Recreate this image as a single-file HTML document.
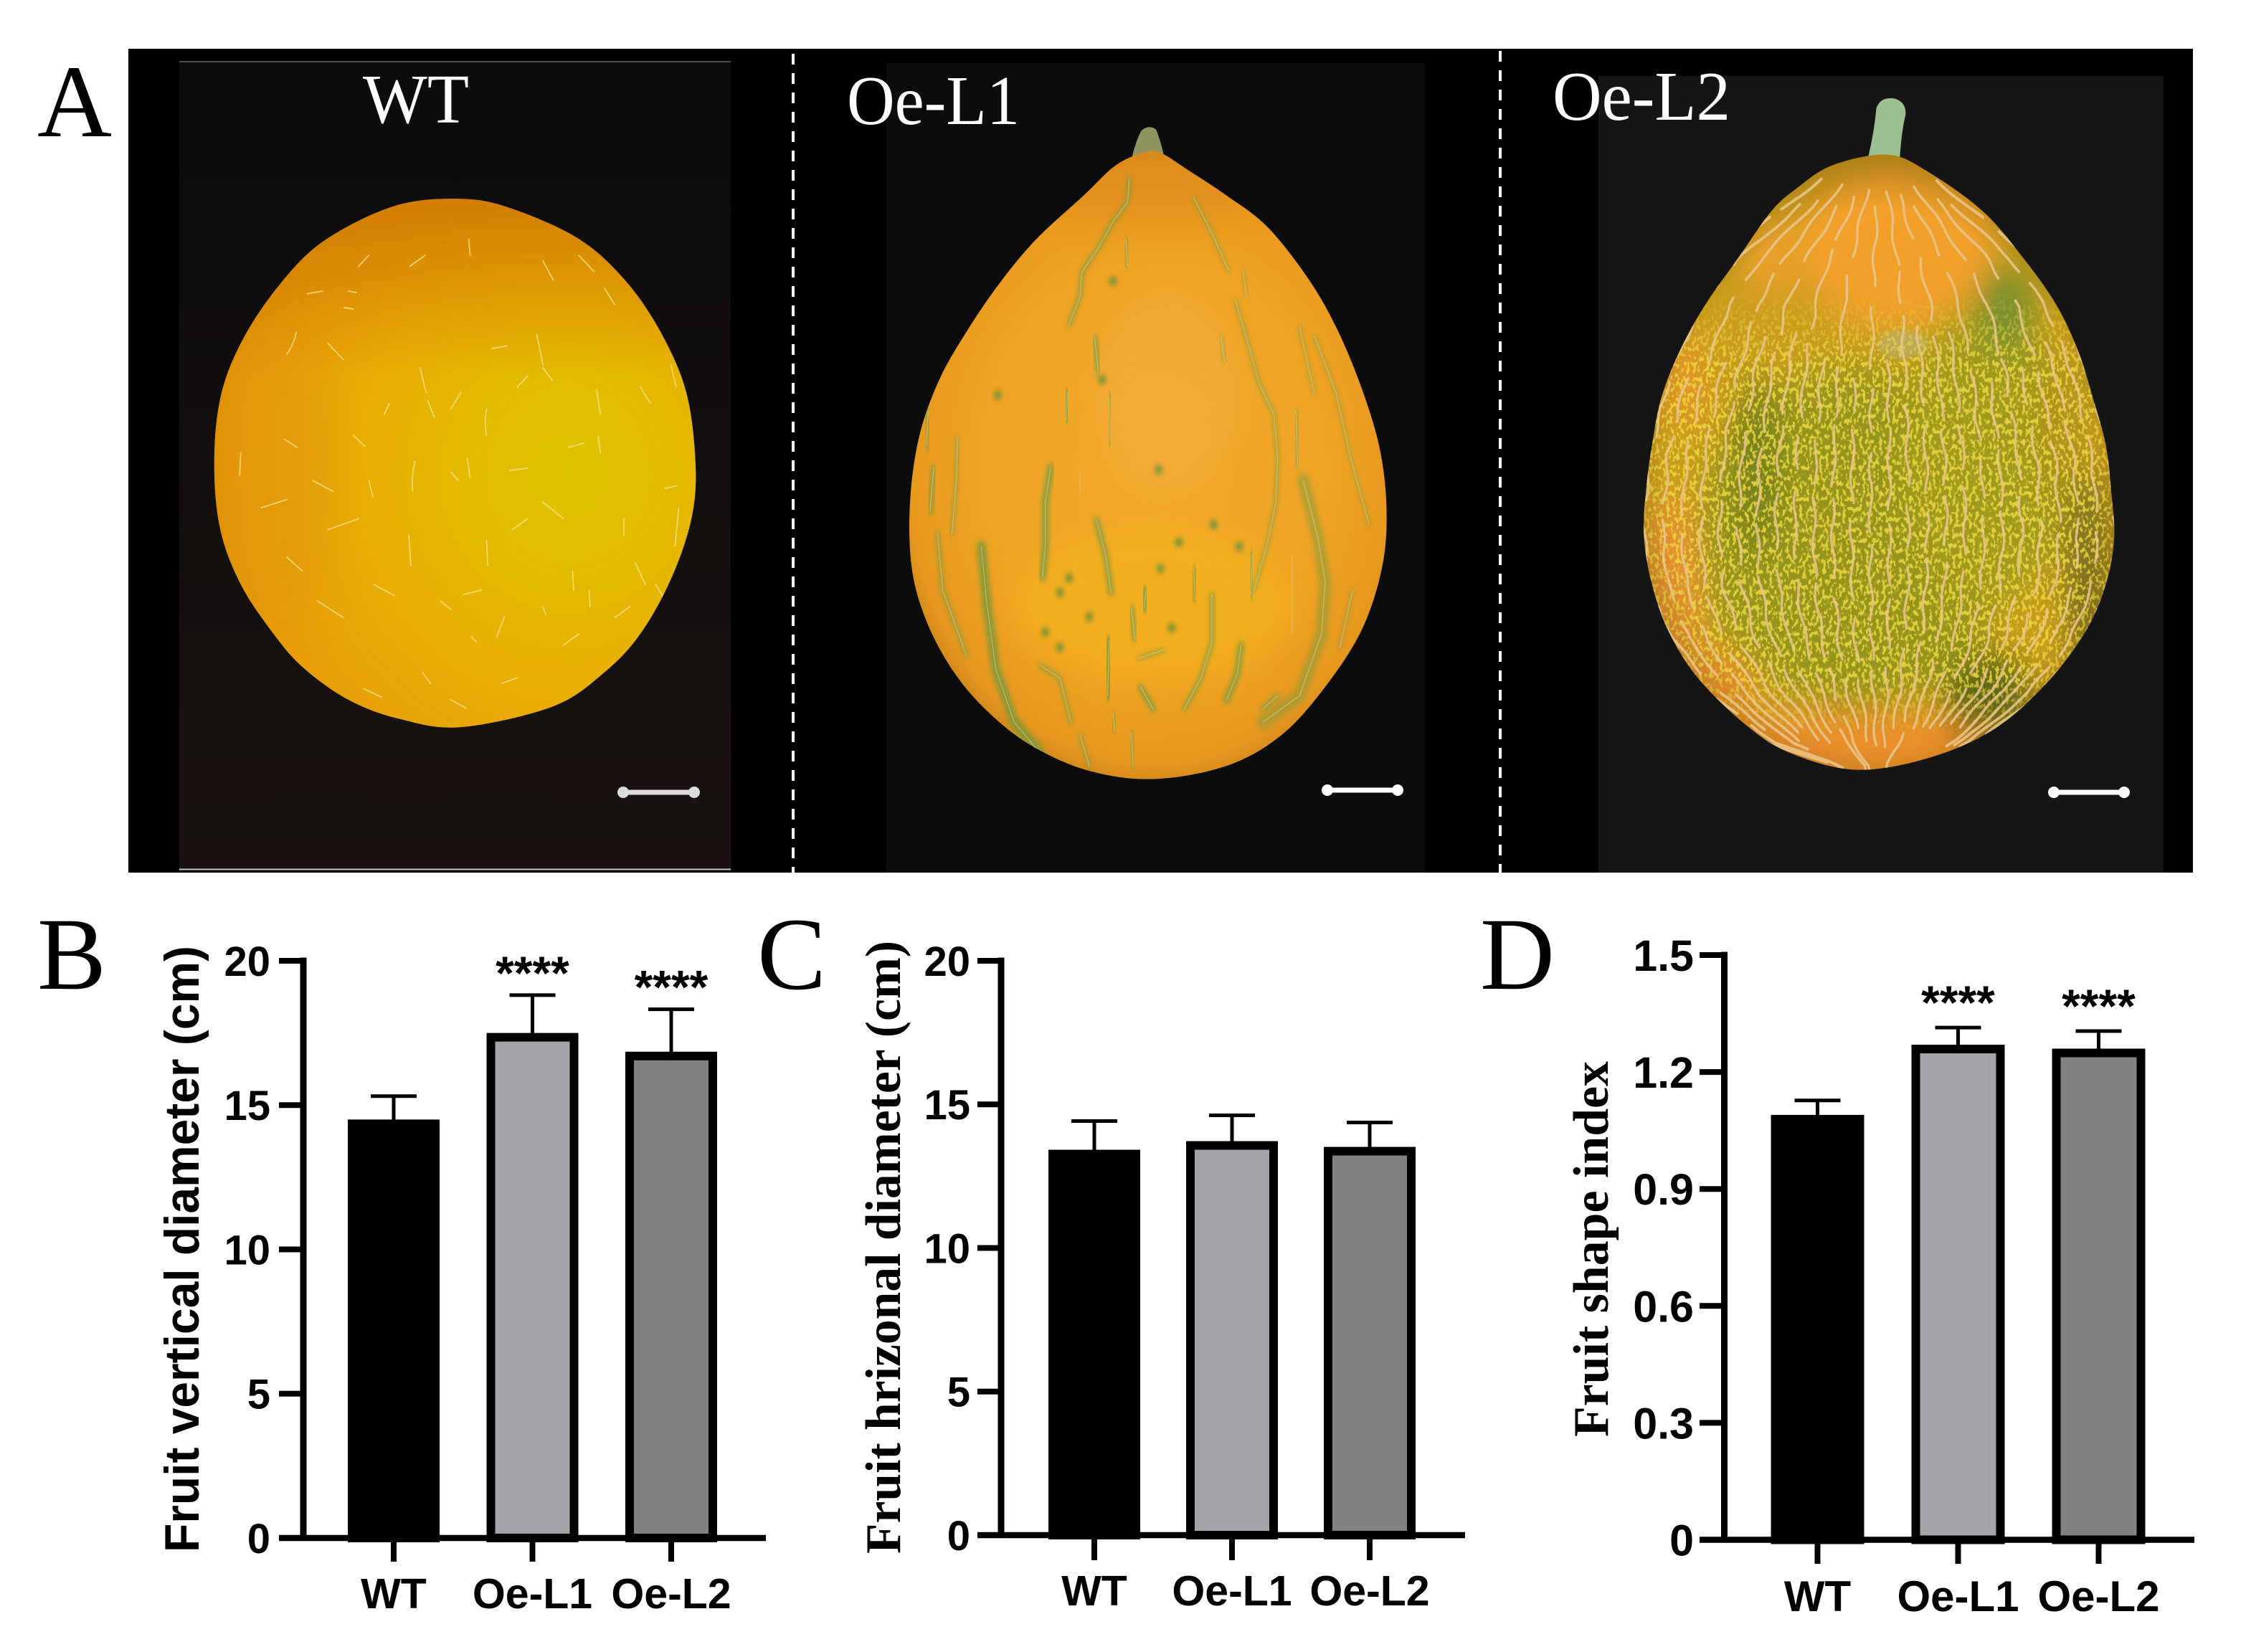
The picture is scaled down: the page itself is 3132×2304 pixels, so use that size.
<!DOCTYPE html>
<html lang="en">
<head>
<meta charset="utf-8">
<title>Melon fruit phenotype figure</title>
<style>
html,body{margin:0;padding:0;background:#fff;}
svg{display:block;}
.serif{font-family:"Liberation Serif",serif;}
.sans{font-family:"Liberation Sans",sans-serif;}
</style>
</head>
<body>
<svg id="figure" xmlns="http://www.w3.org/2000/svg" width="3132" height="2304" viewBox="0 0 3132 2304">
  <defs>
    <filter id="blur6" x="-40%" y="-40%" width="180%" height="180%"><feGaussianBlur stdDeviation="6"/></filter>
    <filter id="blur40" x="-60%" y="-60%" width="220%" height="220%"><feGaussianBlur stdDeviation="40"/></filter>
    <filter id="speckle" x="0" y="0" width="100%" height="100%">
      <feTurbulence type="fractalNoise" baseFrequency="0.11 0.09" numOctaves="2" seed="7"/>
      <feColorMatrix type="matrix" values="0 0 0 0 0.88  0 0 0 0 0.72  0 0 0 0 0.06  0 0 0 9 -4.6"/>
    </filter>
    <linearGradient id="speckleFadeGrad" gradientUnits="userSpaceOnUse" x1="0" y1="470" x2="0" y2="1430">
      <stop offset="0" stop-color="#000"/>
      <stop offset="0.16" stop-color="#fff"/>
      <stop offset="0.86" stop-color="#fff"/>
      <stop offset="1" stop-color="#000"/>
    </linearGradient>
    <mask id="speckleFade" maskUnits="userSpaceOnUse" x="90" y="170" width="1310" height="1340">
      <rect x="90" y="170" width="1310" height="1340" fill="url(#speckleFadeGrad)"/>
    </mask>
    <radialGradient id="wtBase" gradientUnits="userSpaceOnUse" cx="1110" cy="800" r="800">
      <stop offset="0" stop-color="#dcc400"/>
      <stop offset="0.2" stop-color="#e3bd00"/>
      <stop offset="0.5" stop-color="#e9ae04"/>
      <stop offset="0.8" stop-color="#e69c0a"/>
      <stop offset="1" stop-color="#d68208"/>
    </radialGradient>
    <linearGradient id="wtTop" gradientUnits="userSpaceOnUse" x1="0" y1="300" x2="0" y2="620">
      <stop offset="0" stop-color="#c86e00" stop-opacity="0.7"/>
      <stop offset="1" stop-color="#c86e00" stop-opacity="0"/>
    </linearGradient>
    <radialGradient id="l1Base" gradientUnits="userSpaceOnUse" cx="800" cy="820" r="790">
      <stop offset="0" stop-color="#f2aa2c"/>
      <stop offset="0.6" stop-color="#efa424"/>
      <stop offset="0.85" stop-color="#e6981e"/>
      <stop offset="1" stop-color="#b8761a"/>
    </radialGradient>
    <radialGradient id="l2Edge" gradientUnits="userSpaceOnUse" cx="745" cy="870" r="740">
      <stop offset="0.78" stop-color="#5a3a08" stop-opacity="0"/>
      <stop offset="1" stop-color="#5a3a08" stop-opacity="0.4"/>
    </radialGradient>
    <linearGradient id="wtBack" x1="0" y1="0" x2="0" y2="1">
      <stop offset="0" stop-color="#0d0c0c"/>
      <stop offset="1" stop-color="#191210"/>
    </linearGradient>
    <clipPath id="wtClip"><path id="wtClipPath" d=""/></clipPath>
    <clipPath id="l1Clip"><path id="l1ClipPath" d=""/></clipPath>
    <clipPath id="l2Clip"><path id="l2ClipPath" d=""/></clipPath>
  </defs>

  <rect width="3132" height="2304" fill="#ffffff"/>

  <g>
    <rect x="179" y="68" width="2879" height="1149" fill="#000"/>
    <rect x="250" y="86" width="769" height="1127" fill="url(#wtBack)"/>
    <line x1="250" y1="86" x2="1019" y2="86" stroke="#666" stroke-width="1.5"/>
    <line x1="250" y1="1212.5" x2="1019" y2="1212.5" stroke="#ccc" stroke-width="2"/>
    <rect x="1236" y="88" width="751" height="1129" fill="#0c0c0c"/>
    <rect x="2229" y="106" width="788" height="1111" fill="#151515"/>

    <g transform="translate(0,50) scale(0.7143,0.7653)">
      <g clip-path="url(#wtClip)">
        <path id="wtBody" d="" fill="url(#wtBase)"/>
        <rect x="400" y="280" width="980" height="400" fill="url(#wtTop)"/>
        <ellipse cx="540" cy="800" rx="110" ry="280" fill="#dc9008" opacity="0.35" filter="url(#blur40)"/>
        <path fill="none" stroke="#f8e488" stroke-width="2.4" stroke-linecap="round" opacity="0.8"
          d="M1048 545Q1055 575 1060 600M1060 605L1078 628M950 680Q945 705 950 728M810 775Q802 810 806 830M720 810L728 840M912 770L918 805M798 910L802 965M950 920L952 965M1110 750L1140 742M995 792L1030 788M1165 645L1172 690M1168 730L1172 760M1320 820L1298 825M1325 860L1318 930M1218 880L1218 910M905 1018L940 1010M1118 975L1120 1010M1150 1010L1152 1040M970 1095Q980 1070 985 1058M820 605L832 650M835 665L848 695M690 728L712 748M555 735L580 750M560 580Q575 560 578 540M600 470L630 465M680 465L695 468M672 495L690 498M1060 410L1080 445M915 370L918 400M960 570L990 565M1180 460L1200 490M710 1190L745 1205M825 1160L840 1180M920 1095L930 1105M1310 600L1320 640M750 690L760 670M880 795L895 810M1060 1040L1065 1055M470 760L468 800M510 860L560 845M610 810L650 830M640 900L700 880M560 950L590 975M620 1030L670 1060M730 1000L770 1020M860 1030L880 1045M1000 900L1030 880M1060 850L1100 880M1240 960L1260 1000M1200 1060L1230 1040M1100 1110L1130 1090M980 1180L1010 1170M880 1210L910 1225M1280 1000L1300 1030M1130 400L1160 430M800 420L830 400M700 420L720 400M640 560L670 590M1250 640L1270 670M1010 640L1030 620M880 680L900 650"/>
      </g>
    </g>

    <g transform="translate(1200,150) scale(0.5102,0.6122)">
      <path d="M742 112Q755 70 768 52Q788 38 808 50Q820 75 830 112Z" fill="#8f9460"/>
      <g clip-path="url(#l1Clip)">
        <path id="l1Body" d="" fill="url(#l1Base)"/>
        <ellipse cx="840" cy="640" rx="190" ry="220" fill="#f5b050" opacity="0.4" filter="url(#blur40)"/>
        <ellipse cx="800" cy="1130" rx="380" ry="170" fill="#f4b21c" opacity="0.7" filter="url(#blur40)"/>
        <ellipse cx="780" cy="170" rx="330" ry="90" fill="#dd8a1e" opacity="0.6" filter="url(#blur40)"/>
        <g id="l1StreakLayer"></g>
      </g>
    </g>

    <g transform="translate(2240,100) scale(0.5102,0.6503)">
      <path d="M716 182Q732 130 738 78Q750 52 790 58Q820 66 818 92Q806 130 802 188Z" fill="#9cc090"/>
      <g clip-path="url(#l2Clip)">
        <path id="l2Body" d="" fill="#c89c1c"/>
        <g filter="url(#blur40)">
          <ellipse cx="790" cy="380" rx="270" ry="170" fill="#f2a02c"/>
          <ellipse cx="680" cy="1000" rx="430" ry="370" fill="#96941a"/>
          <ellipse cx="1040" cy="820" rx="230" ry="320" fill="#a09a1a"/>
          <ellipse cx="1090" cy="510" rx="80" ry="90" fill="#76902e"/>
          <ellipse cx="450" cy="400" rx="70" ry="90" fill="#eaa02a"/>
          <ellipse cx="210" cy="660" rx="60" ry="100" fill="#e49428"/>
          <ellipse cx="660" cy="1450" rx="400" ry="80" fill="#ec8e2a"/>
          <ellipse cx="180" cy="1100" rx="80" ry="190" fill="#e89232"/>
          <ellipse cx="290" cy="1320" rx="120" ry="70" fill="#e88e2a"/>
          <ellipse cx="1040" cy="1340" rx="120" ry="90" fill="#5c6618"/>
          <ellipse cx="1310" cy="1050" rx="60" ry="210" fill="#7a7220"/>
          <ellipse cx="410" cy="850" rx="60" ry="200" fill="#74801c"/>
          <ellipse cx="1250" cy="750" rx="70" ry="160" fill="#b0921e"/>
        </g>
        <ellipse cx="810" cy="585" rx="70" ry="30" fill="#b0b88e" opacity="0.5" filter="url(#blur6)"/>
        <g mask="url(#speckleFade)" opacity="0.8">
          <rect x="100" y="460" width="1300" height="980" filter="url(#speckle)"/>
        </g>
        <rect x="90" y="170" width="1310" height="1340" fill="url(#l2Edge)"/>
        <path id="l2Ribs" d="" fill="none" stroke="#eac78c" stroke-width="6.5" stroke-linecap="round" stroke-linejoin="round" opacity="0.85"/>
      </g>
    </g>

    <line x1="1106" y1="75" x2="1106" y2="1217" stroke="#fff" stroke-width="4" stroke-dasharray="15 12"/>
    <line x1="2092" y1="71" x2="2092" y2="1217" stroke="#fff" stroke-width="4" stroke-dasharray="15 12"/>

    <text class="serif" x="506" y="171" font-size="98" fill="#fff" textLength="148" lengthAdjust="spacingAndGlyphs">WT</text>
    <text class="serif" x="1181" y="173" font-size="98" fill="#fff" textLength="241" lengthAdjust="spacingAndGlyphs">Oe-L1</text>
    <text class="serif" x="2165" y="167" font-size="98" fill="#fff" textLength="248" lengthAdjust="spacingAndGlyphs">Oe-L2</text>

    <g stroke="#dcdcdc" fill="#dcdcdc">
      <line x1="869" y1="1105" x2="968" y2="1105" stroke-width="7"/>
      <circle cx="869" cy="1105" r="8" stroke="none"/><circle cx="968" cy="1105" r="8" stroke="none"/>
    </g>
    <g stroke="#fff" fill="#fff">
      <line x1="1851" y1="1102" x2="1949" y2="1102" stroke-width="7"/>
      <circle cx="1851" cy="1102" r="8" stroke="none"/><circle cx="1949" cy="1102" r="8" stroke="none"/>
    </g>
    <g stroke="#fff" fill="#fff">
      <line x1="2864" y1="1105" x2="2962" y2="1105" stroke-width="7"/>
      <circle cx="2864" cy="1105" r="8" stroke="none"/><circle cx="2962" cy="1105" r="8" stroke="none"/>
    </g>
  </g>

  <text class="serif" x="52" y="190" font-size="144" fill="#000">A</text>
  <text class="serif" x="52" y="1379" font-size="144" fill="#000">B</text>
  <text class="serif" x="1056" y="1379" font-size="144" fill="#000">C</text>
  <text class="serif" x="2064" y="1379" font-size="144" fill="#000">D</text>

  <g id="chartB"></g>
  <g id="chartC"></g>
  <g id="chartD"></g>
</svg>

<script>
/* ---------- chart data ---------- */
const categories = ['WT', 'Oe-L1', 'Oe-L2'];
const barFills = ['#000000', '#a4a3a7', '#818181'];

const verticalMeans = [14.5, 17.5, 16.85];
const verticalErrors = [0.81, 1.31, 1.47];
const verticalStars = ['', '****', '****'];
const verticalTicks = [0, 5, 10, 15, 20];
const verticalTickLabels = ['0', '5', '10', '15', '20'];

const horizontalMeans = [13.42, 13.72, 13.52];
const horizontalErrors = [1.0, 0.9, 0.85];
const horizontalStars = ['', '', ''];
const horizontalTicks = [0, 5, 10, 15, 20];
const horizontalTickLabels = ['0', '5', '10', '15', '20'];

const shapeMeans = [1.09, 1.27, 1.26];
const shapeErrors = [0.037, 0.044, 0.045];
const shapeStars = ['', '****', '****'];
const shapeTicks = [0, 0.3, 0.6, 0.9, 1.2, 1.5];
const shapeTickLabels = ['0', '0.3', '0.6', '0.9', '1.2', '1.5'];

const NS = 'http://www.w3.org/2000/svg';

function make(tag, attrs, parent) {
  const node = document.createElementNS(NS, tag);
  for (const key in attrs) node.setAttribute(key, attrs[key]);
  parent.appendChild(node);
  return node;
}

function drawChart(cfg) {
  const root = document.getElementById(cfg.id);
  const yScale = v => cfg.zeroY - (v / cfg.yMax) * (cfg.zeroY - cfg.topY);
  const xScale = i => cfg.firstX + i * cfg.stepX;
  const prefix = cfg.prefix;

  cfg.means.forEach((mean, i) => {
    const cx = xScale(i);
    const top = yScale(mean);
    const errTop = yScale(mean + cfg.errors[i]);
    const errLine = make('line', {x1: cx, x2: cx, y1: top + 4, y2: errTop, stroke: '#000', 'stroke-width': 5}, root);
    
    
    const errCap = make('line', {x1: cx - 32, x2: cx + 32, y1: errTop, y2: errTop, stroke: '#000', 'stroke-width': 5}, root);
    
    
    const sw = 12;
    const bar = make('rect', {
      x: cx - cfg.barWidth / 2 + sw / 2,
      y: top + sw / 2,
      width: cfg.barWidth - sw,
      height: cfg.zeroY - top - sw / 2,
      fill: barFills[i], stroke: '#000', 'stroke-width': sw
    }, root);
    
    
    if (cfg.stars[i]) {
      const star = make('text', {
        x: cx, y: errTop + cfg.starOffset, 'text-anchor': 'middle',
        'font-size': 66, 'font-weight': 'bold', 'font-family': '"Liberation Sans", sans-serif', fill: '#000'
      }, root);
      star.textContent = cfg.stars[i];
      
      
    }
    const tick = make('line', {x1: cx, x2: cx, y1: cfg.zeroY, y2: cfg.tickBottom, stroke: '#000', 'stroke-width': 8}, root);
    
    
    const label = make('text', {
      x: cx, y: cfg.xLabelY, 'text-anchor': 'middle',
      'font-size': cfg.xFont, 'font-weight': 'bold', 'font-family': '"Liberation Sans", sans-serif', fill: '#000'
    }, root);
    label.textContent = categories[i];
    
    
  });

  const yAxis = make('line', {x1: cfg.axisX, x2: cfg.axisX, y1: cfg.topY - 4.5, y2: cfg.zeroY + 4, stroke: '#000', 'stroke-width': 9}, root);
  
  
  const xAxis = make('line', {x1: cfg.tickLeft, x2: cfg.axisRight, y1: cfg.zeroY, y2: cfg.zeroY, stroke: '#000', 'stroke-width': 8.5}, root);
  
  

  cfg.ticks.forEach((t, i) => {
    const y = yScale(t);
    const tick = make('line', {x1: cfg.tickLeft, x2: cfg.axisX, y1: y, y2: y, stroke: '#000', 'stroke-width': 8}, root);
    
    
    const label = make('text', {
      x: cfg.tickLabelRight, y: y + cfg.yFont * 0.36, 'text-anchor': 'end',
      'font-size': cfg.yFont, 'font-weight': 'bold', 'font-family': '"Liberation Sans", sans-serif', fill: '#000'
    }, root);
    label.textContent = cfg.tickLabels[i];
    
    
  });

  const title = make('text', {
    transform: 'translate(' + cfg.titleX + ',' + cfg.titleBottom + ') rotate(-90)',
    x: 0, y: 0, 'font-size': cfg.titleFont, 'font-weight': 'bold',
    'font-family': cfg.titleFamily, fill: '#000',
    textLength: cfg.titleLength, lengthAdjust: 'spacingAndGlyphs'
  }, root);
  title.textContent = cfg.title;
  
  
}

drawChart({
  id: 'chartB', prefix: 'vertical', means: verticalMeans, errors: verticalErrors, stars: verticalStars,
  ticks: verticalTicks, tickLabels: verticalTickLabels, yMax: 20,
  axisX: 423, topY: 1340, zeroY: 2145, tickLeft: 389, axisRight: 1068, tickBottom: 2178,
  firstX: 549, stepX: 193.5, barWidth: 128, starOffset: -8, tickLabelRight: 377, yFont: 58, xFont: 59, xLabelY: 2243,
  title: 'Fruit vertical diameter (cm)', titleX: 277, titleBottom: 2165, titleFont: 68, titleLength: 846,
  titleFamily: '"Liberation Sans", sans-serif'
});
drawChart({
  id: 'chartC', prefix: 'horizontal', means: horizontalMeans, errors: horizontalErrors, stars: horizontalStars,
  ticks: horizontalTicks, tickLabels: horizontalTickLabels, yMax: 20,
  axisX: 1396, topY: 1340, zeroY: 2141, tickLeft: 1363, axisRight: 2043, tickBottom: 2176,
  firstX: 1526, stepX: 192, barWidth: 128, starOffset: -7, tickLabelRight: 1353, yFont: 58, xFont: 59, xLabelY: 2239,
  title: 'Fruit hrizonal diameter (cm)', titleX: 1255, titleBottom: 2167, titleFont: 70, titleLength: 855,
  titleFamily: '"Liberation Serif", serif'
});
drawChart({
  id: 'chartD', prefix: 'shape', means: shapeMeans, errors: shapeErrors, stars: shapeStars,
  ticks: shapeTicks, tickLabels: shapeTickLabels, yMax: 1.5,
  axisX: 2404.5, topY: 1332, zeroY: 2147.5, tickLeft: 2370, axisRight: 3060, tickBottom: 2181,
  firstX: 2534.5, stepX: 196, barWidth: 130, starOffset: -12, tickLabelRight: 2362, yFont: 61, xFont: 60, xLabelY: 2247,
  title: 'Fruit shape index', titleX: 2242, titleBottom: 2004, titleFont: 70, titleLength: 524,
  titleFamily: '"Liberation Serif", serif'
});

/* ---------- photo illustrations (not chart data) ---------- */
const wtOutline = [[900,297],[1000,315],[1130,370],[1220,445],[1290,540],[1340,650],[1358,780],[1350,880],[1310,990],[1250,1090],[1180,1160],[1080,1222],[900,1260],[780,1245],[680,1210],[590,1150],[530,1085],[470,1000],[430,900],[418,780],[430,660],[470,560],[540,460],[630,375],[770,310]];
const l1Outline = [[785,100],[825,105],[900,145],[1000,200],[1110,270],[1220,385],[1300,500],[1370,640],[1420,780],[1438,920],[1425,1050],[1370,1190],[1270,1320],[1150,1430],[1000,1500],[800,1530],[620,1510],[460,1450],[340,1370],[250,1280],[180,1170],[140,1050],[135,900],[160,750],[215,620],[290,510],[380,400],[480,300],[610,200],[700,130]];
const l2Outline = [[770,178],[880,215],[1030,300],[1140,400],[1230,500],[1290,600],[1330,700],[1365,800],[1380,900],[1388,1000],[1365,1100],[1310,1200],[1205,1310],[1060,1410],[880,1472],[680,1497],[500,1460],[380,1400],[250,1300],[170,1200],[125,1100],[103,1000],[108,900],[125,800],[150,700],[200,600],[270,500],[360,400],[450,300],[520,250],[620,200]];

function smoothClosed(points) {
  const n = points.length;
  let d = 'M' + points[0][0] + ' ' + points[0][1];
  for (let i = 0; i < n; i++) {
    const p0 = points[(i - 1 + n) % n], p1 = points[i], p2 = points[(i + 1) % n], p3 = points[(i + 2) % n];
    const c1x = p1[0] + (p2[0] - p0[0]) / 6, c1y = p1[1] + (p2[1] - p0[1]) / 6;
    const c2x = p2[0] - (p3[0] - p1[0]) / 6, c2y = p2[1] - (p3[1] - p1[1]) / 6;
    d += 'C' + c1x.toFixed(1) + ' ' + c1y.toFixed(1) + ' ' + c2x.toFixed(1) + ' ' + c2y.toFixed(1) + ' ' + p2[0] + ' ' + p2[1];
  }
  return d + 'Z';
}
[['wtBody', 'wtClipPath', wtOutline], ['l1Body', 'l1ClipPath', l1Outline], ['l2Body', 'l2ClipPath', l2Outline]].forEach(row => {
  const d = smoothClosed(row[2]);
  document.getElementById(row[0]).setAttribute('d', d);
  document.getElementById(row[1]).setAttribute('d', d);
});

const l1Streaks = [
  [11,'M735 160L730 215L690 260L650 320L605 375L600 430L570 495'],
  [10,'M725 300L730 360'],[7,'M910 205L960 285L1005 370'],[5,'M1045 370L1055 430'],
  [8,'M1025 440L1060 540L1090 630L1130 700L1140 800L1135 900L1110 1000L1075 1100'],
  [6,'M985 520L995 580'],[14,'M640 525L650 600'],[20,'M565 650L562 710'],[22,'M680 660L682 760'],
  [20,'M520 820L505 900L505 1000L497 1070'],[22,'M600 830L600 880'],[16,'M645 940L670 1020L685 1105'],
  [26,'M330 1000L345 1130L370 1280L420 1400L490 1470'],[8,'M265 750L262 850L250 970'],[14,'M200 820L190 920'],
  [10,'M210 970L225 1100L290 1250'],[30,'M185 690L180 770'],[8,'M1190 690L1195 820'],
  [34,'M1210 850L1250 980L1270 1080L1260 1200L1200 1340L1100 1400'],[40,'M1180 1020L1180 1200'],
  [14,'M910 1050L915 1120'],[12,'M960 1110L960 1220L930 1300L885 1370'],[18,'M1040 1225L1030 1290L1000 1350'],
  [14,'M740 1140L750 1210'],[22,'M780 1100L775 1140'],[24,'M680 1215L675 1340'],[10,'M690 1380L695 1420'],
  [10,'M490 1270L545 1300L575 1400'],[16,'M765 1320L800 1370'],[10,'M740 1425L745 1500'],[9,'M600 1430L625 1500'],
  [8,'M760 1255L830 1235'],[6,'M1240 520L1300 650L1340 800L1390 950'],[6,'M1345 1100L1310 1230'],[6,'M1200 500L1240 650'],
  [20,'M1070 1020L1068 1110'],[12,'M1100 1370L1140 1340']
];
const l1Spots = [[545,1105],[570,1072],[625,1160],[545,1230],[820,1050],[1035,1000],[965,950],[870,990],[815,825],[505,1195],[375,655],[660,620],[690,395],[850,1185]];
const l1Layer = document.getElementById('l1StreakLayer');
l1Streaks.forEach(s => {
  const glow = make('path', {d: s[1], fill: 'none', stroke: '#7f983a', 'stroke-width': s[0], 'stroke-linecap': 'round', opacity: s[0] >= 30 ? 0.5 : 0.85, filter: 'url(#blur6)'}, l1Layer);
  
  
  const core = make('path', {d: s[1], fill: 'none', stroke: '#d8d2a0', 'stroke-width': 2.5, 'stroke-linecap': 'round', opacity: 0.55}, l1Layer);
  
  
});
l1Spots.forEach(p => {
  const spot = make('circle', {cx: p[0], cy: p[1], r: 11, fill: '#6f8f38', opacity: 0.9, filter: 'url(#blur6)'}, l1Layer);
  
  
});

const l2HalfWidth = [[190,100],[300,290],[400,470],[500,600],[650,700],[830,770],[980,790],[1100,770],[1220,690],[1330,540],[1440,320],[1490,120]];
function halfWidthAt(y) {
  for (let i = 1; i < l2HalfWidth.length; i++) {
    if (y <= l2HalfWidth[i][0]) {
      const a = l2HalfWidth[i - 1], b = l2HalfWidth[i];
      return a[1] + (b[1] - a[1]) * (y - a[0]) / (b[0] - a[0]);
    }
  }
  return 120;
}
let ribPath = '';
for (let k = 0; k < 30; k++) {
  const u = -0.95 + k * 0.0655;
  let y = 230 + 60 * Math.abs(Math.sin(k * 3.7));
  let s = 0;
  while (y < 1420) {
    const len = 70 + 110 * Math.abs(Math.sin(k * 12.9 + s * 4.1));
    const gap = 12 + 26 * Math.abs(Math.sin(k * 5.3 + s * 2.7));
    const inBand = y > 540 || k % 2 === 0;
    const keep = !(y > 1340 && Math.abs(u) < 0.55 && s % 2 === 0);
    if (inBand && keep) {
      for (let py = y, first = true; py < y + len; py += 13, first = false) {
        const x = 748 + u * halfWidthAt(py) + 5 * Math.sin(py / 18 + k);
        ribPath += (first ? 'M' : 'L') + x.toFixed(0) + ' ' + py.toFixed(0);
      }
    }
    y += len + gap;
    s++;
  }
}
document.getElementById('l2Ribs').setAttribute('d', ribPath);
</script>
</body>
</html>
